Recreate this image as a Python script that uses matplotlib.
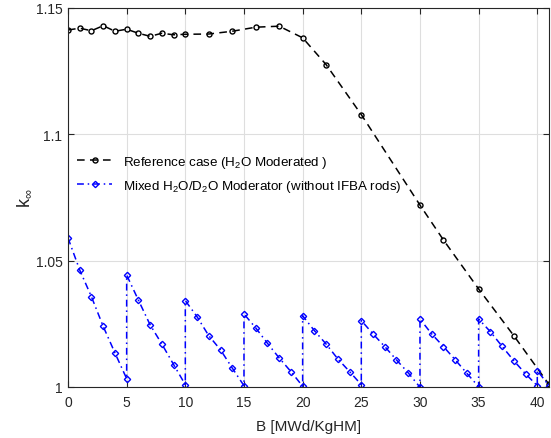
import matplotlib
matplotlib.use("Agg")
import matplotlib.pyplot as plt

plt.rcParams['font.family'] = ['Liberation Sans', 'DejaVu Sans']
plt.rcParams['mathtext.fontset'] = 'custom'
plt.rcParams['mathtext.rm'] = 'Liberation Sans'
plt.rcParams['mathtext.it'] = 'Liberation Sans:italic'

# reference case (H2O moderated)
ref_b = [0, 1, 2, 3, 4, 5, 6, 7, 8, 9, 10, 12, 14, 16, 18, 20, 22, 25, 30, 32, 35, 38, 41]
ref_k = [1.1413, 1.1420, 1.1410, 1.1430, 1.1408, 1.1416, 1.1400, 1.1388, 1.1400, 1.1394,
         1.1396, 1.1397, 1.1408, 1.1424, 1.1428, 1.1382, 1.1276, 1.1078, 1.0720, 1.0582,
         1.0388, 1.0203, 1.0010]

# mixed H2O/D2O moderator, reshuffled every 5 MWd/KgHM
mix_b = [0, 1, 2, 3, 4, 5,
         5, 6, 7, 8, 9, 10,
         10, 11, 12, 13, 14, 15,
         15, 16, 17, 18, 19, 20,
         20, 21, 22, 23, 24, 25,
         25, 26, 27, 28, 29, 30,
         30, 31, 32, 33, 34, 35,
         35, 36, 37, 38, 39, 40,
         40, 41]
mix_k = [1.0590, 1.0463, 1.0357, 1.0240, 1.0135, 1.0033,
         1.0443, 1.0344, 1.0246, 1.0170, 1.0089, 1.0009,
         1.0342, 1.0278, 1.0203, 1.0147, 1.0075, 1.0005,
         1.0289, 1.0234, 1.0173, 1.0115, 1.0061, 1.0003,
         1.0282, 1.0223, 1.0170, 1.0111, 1.0061, 1.0009,
         1.0263, 1.0210, 1.0160, 1.0107, 1.0056, 0.9999,
         1.0269, 1.0210, 1.0160, 1.0108, 1.0054, 1.0001,
         1.0269, 1.0219, 1.0161, 1.0104, 1.0052, 1.0005,
         1.0065, 1.0005]

fig = plt.figure(figsize=(5.51, 4.39), dpi=100)
ax = fig.add_axes([0.1234, 0.1162, 0.8730, 0.8633])

ax.plot(ref_b, ref_k, color='black', linestyle='--', dashes=(5, 3.5), linewidth=1.1,
        marker='o', markersize=3.6, markerfacecolor='none', markeredgewidth=1.0,
        label=r'Reference case (H$_2$O Moderated )')
ax.plot(mix_b, mix_k, color='blue', linestyle='-.', dashes=(4.5, 2.5, 1, 2.5), linewidth=1.1,
        marker='D', markersize=3.2, markerfacecolor='none', markeredgewidth=1.0,
        label=r'Mixed H$_2$O/D$_2$O Moderator (without IFBA rods)')

ax.set_xlim(0, 41)
ax.set_ylim(1.0, 1.15)
ax.set_xticks(range(0, 41, 5))
ax.set_yticks([1.0, 1.05, 1.1, 1.15])
ax.set_yticklabels(['1', '1.05', '1.1', '1.15'])
ax.grid(True, color='#dedede', linewidth=0.8)
ax.set_axisbelow(True)
ax.tick_params(direction='in', top=True, right=True, labelsize=10, length=4, colors='#262626')
ax.tick_params(axis='x', pad=6)
ax.tick_params(axis='y', pad=4)
for s in ax.spines.values():
    s.set_color('#262626')
    s.set_linewidth(0.8)

ax.set_xlabel('B [MWd/KgHM]', fontsize=11, color='#262626', labelpad=7)
ax.set_ylabel(r'k$_{\infty}$', fontsize=13, color='#262626', labelpad=2)

ax.legend(loc='upper left', bbox_to_anchor=(0.0, 0.64), frameon=False, fontsize=9.6,
          handlelength=2.6, borderaxespad=0.3, labelspacing=0.6)

fig.savefig('out.png', dpi=100)
